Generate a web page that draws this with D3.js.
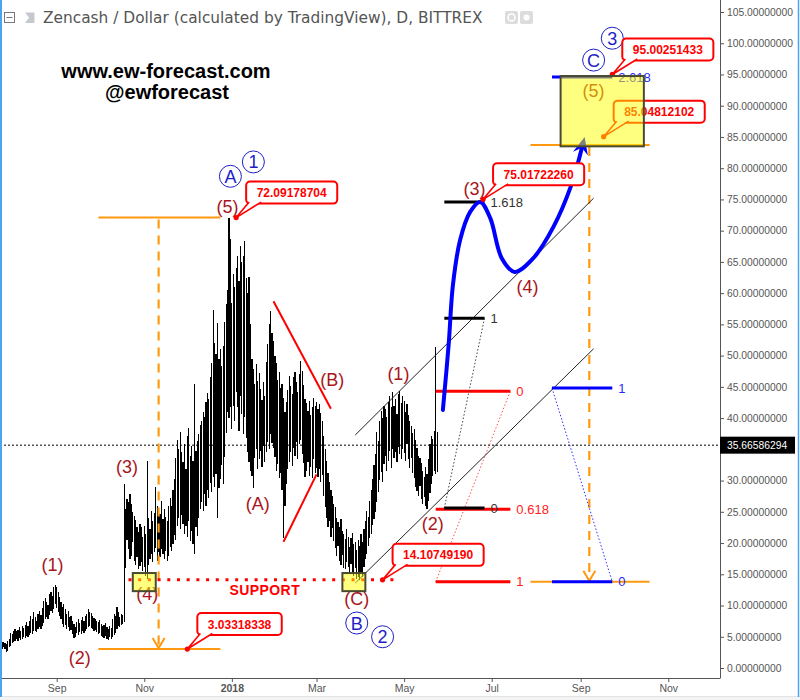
<!DOCTYPE html>
<html><head><meta charset="utf-8">
<script src="https://cdn.jsdelivr.net/npm/d3@7"></script>
<style>body{margin:0;background:#fff}svg{display:block}</style>
</head><body>
<svg id="c" width="800" height="700"></svg>
<script>
// ---------------- DATA ----------------
const barStart = "2017-07-24";
const lows = [
3.2,3.0,3.3,3.1,2.6,2.8,3.4,3.6,4.0,4.2,
4.4,4.6,4.3,4.8,4.5,4.7,5.0,4.8,5.2,5.0,
5.3,5.6,5.4,5.9,6.0,5.8,6.2,6.5,6.3,6.8,
7.2,7.8,8.2,7.9,8.5,9.1,8.8,9.5,10.2,9.6,
9.0,8.4,7.9,7.0,6.6,6.9,6.2,6.5,5.9,6.1,
5.5,4.8,5.0,5.6,5.3,5.8,5.4,5.9,5.6,6.0,
6.2,6.5,6.8,6.4,6.3,5.9,6.1,5.7,5.4,5.6,
5.2,5.0,4.8,5.1,4.7,4.5,4.9,4.6,5.0,5.3,
5.6,6.2,6.8,6.5,6.9,7.0,7.3,16.0,20.5,19.0,
17.5,18.0,20.1,17.2,16.5,17.8,15.9,16.3,17.0,15.5,
16.2,14.8,14.2,16.5,17.4,18.2,17.0,18.6,19.2,17.1,
18.5,17.8,19.0,18.2,17.5,18.8,17.2,18.0,19.4,18.7,
19.8,21.3,20.5,22.8,24.0,22.2,24.5,23.0,21.5,22.8,
21.0,23.6,20.4,22.0,19.8,18.3,22.5,21.2,24.0,25.5,
26.5,25.1,27.8,26.0,28.5,27.2,29.6,28.1,30.5,29.0,
31.0,24.0,28.8,30.2,32.5,29.4,33.8,37.6,41.0,40.0,
41.8,38.2,42.0,39.5,44.2,41.8,38.0,43.5,40.6,37.4,
40.2,36.8,34.5,33.0,31.5,30.8,28.8,33.6,35.1,31.8,
33.5,34.8,32.2,35.5,33.0,34.6,36.2,35.0,37.5,36.0,
35.2,33.8,31.5,32.6,30.4,31.2,28.5,20.8,26.0,29.5,
31.8,33.0,34.5,32.4,35.2,34.0,36.1,33.5,35.8,36.5,
34.2,32.8,30.5,31.6,33.0,30.8,32.1,30.4,33.5,31.2,
32.0,30.6,31.8,29.7,30.9,27.5,25.8,24.0,22.6,23.5,
21.0,22.4,20.3,19.2,18.0,19.5,17.2,16.5,18.1,16.0,
15.8,17.0,16.2,15.0,16.6,15.4,14.8,16.0,14.3,14.6,
14.1,15.2,14.5,16.1,17.5,18.2,19.6,20.8,21.5,22.9,
23.8,25.0,26.5,28.2,30.1,31.4,29.8,32.6,33.9,31.5,
33.2,34.8,32.0,35.1,33.6,34.5,33.0,35.4,34.2,33.5,
35.0,34.4,33.2,35.8,33.5,32.0,33.6,31.2,30.4,29.0,
28.4,27.5,29.1,27.0,26.2,27.4,26.0,25.5,26.8,28.0,
29.5,30.8,31.5,31.0,31.4];
const highs = [
4.0,4.1,4.2,4.0,3.8,4.3,4.6,5.6,5.5,6.0,
6.3,5.9,6.1,6.5,6.0,6.8,6.4,6.9,7.3,6.8,
7.5,8.4,7.8,8.9,8.2,7.6,8.7,9.2,8.5,9.6,
10.8,11.2,10.5,10.1,11.8,12.2,11.5,12.9,13.3,13.0,
12.1,11.4,10.6,9.8,10.2,9.4,8.6,9.1,8.2,8.4,
7.6,7.0,6.6,7.4,7.9,7.2,7.7,8.1,7.5,8.3,
8.6,9.4,9.0,8.8,8.3,8.0,7.8,7.6,7.3,7.7,
7.1,6.8,6.9,7.2,6.6,6.3,6.7,6.4,7.8,8.6,
8.4,9.8,8.9,8.2,8.7,8.5,29.5,25.5,27.0,26.5,
27.8,26.2,25.0,24.4,23.7,22.5,21.8,23.0,22.6,20.9,
22.8,21.5,33.2,24.0,22.3,25.1,23.5,24.8,28.9,26.0,
25.2,24.6,26.8,23.9,25.5,24.2,23.5,25.9,27.2,26.0,
28.5,30.2,33.6,36.5,35.1,37.8,34.6,33.0,35.8,31.9,
37.2,38.4,34.0,35.6,33.1,45.5,34.8,36.3,37.5,38.9,
39.5,41.0,40.2,42.5,44.0,43.1,46.5,48.8,57.3,52.0,
50.2,55.2,49.5,51.0,48.3,51.5,55.4,58.2,60.5,72.1,
68.6,58.5,63.0,61.0,64.0,66.0,62.0,67.5,65.0,66.0,
68.4,62.5,60.1,62.6,55.0,49.5,47.8,45.5,48.6,46.0,
47.2,44.6,42.9,45.8,43.5,48.9,51.8,55.1,57.2,53.6,
52.4,50.0,48.8,46.1,47.3,44.8,45.5,43.2,41.0,42.6,
44.5,46.8,45.2,43.9,46.5,47.4,45.8,44.1,47.0,49.2,
47.5,45.3,43.0,42.4,41.2,42.8,40.5,41.8,43.2,42.0,
42.6,41.4,42.2,40.8,39.6,37.2,35.0,33.1,31.2,29.8,
28.5,27.6,26.2,25.8,24.0,23.4,22.5,23.8,22.0,21.4,
20.6,22.2,21.0,19.4,20.8,21.6,19.8,20.2,18.9,20.5,
19.6,21.4,20.1,22.3,23.6,25.1,24.2,26.8,28.5,30.2,
32.5,34.2,37.8,36.4,39.5,41.2,40.0,42.0,41.5,40.2,
42.6,43.5,41.8,44.2,42.0,43.0,40.6,43.8,44.4,42.4,
43.6,42.8,41.0,42.2,40.5,39.6,38.8,37.6,38.2,36.5,
35.2,34.0,33.6,32.8,31.5,30.6,32.2,31.0,33.4,35.8,
37.2,36.6,38.0,51.3,37.8];
const lastPrice = 35.66586294;

const yTickValues = [0,5,10,15,20,25,30,40,45,50,55,60,65,70,75,80,85,90,95,100,105];
const xTickDates = ["2017-09-01","2017-11-01","2018-01-01","2018-03-01","2018-05-01","2018-07-01","2018-09-01","2018-11-01"];
const xTickLabels = ["Sep","Nov","2018","Mar","May","Jul","Sep","Nov"];

const waveText   = ["(1)","(2)","(3)","(4)","(5)","(A)","(B)","(C)","(1)","(2)","(3)","(4)","(5)"];
const waveDates  = ["2017-08-29","2017-09-17","2017-10-20","2017-11-03","2017-12-29","2018-01-19","2018-03-12","2018-03-29","2018-04-27","2018-05-21","2018-06-19","2018-07-26","2018-09-10"];
const wavePrices = [16.5,1.6,32.2,12.0,73.8,26.4,46.1,11.2,47.2,23.2,76.8,61.0,92.5];

const circText   = ["A","1","B","2","C","3"];
const circDates  = ["2017-12-31","2018-01-16","2018-03-29","2018-04-16","2018-09-10","2018-09-23"];
const circPrices = [78.7,81.0,7.2,5.0,97.3,100.8];

const calloutText   = ["72.09178704","14.10749190","3.03318338","75.01722260","95.00251433","85.04812102"];
const calloutDates  = ["2018-01-04","2018-04-16","2017-12-01","2018-06-25","2018-09-23","2018-09-17"];
const calloutPrices = [72.09178704,14.10749190,3.03318338,75.01722260,95.00251433,85.04812102];

const boxStart  = ["2017-10-24","2018-03-19","2018-08-18"];
const boxEnd    = ["2017-11-09","2018-04-04","2018-10-15"];
const boxTop    = [15.2,15.2,94.75];
const boxBottom = [12.3,12.3,83.5];

const targetHStart = ["2017-09-30","2018-07-28"];
const targetHEnd   = ["2017-12-24","2018-10-19"];
const targetVDate  = ["2017-11-11","2018-09-07"];
const targetTop    = [72.09178704, 83.7];
const targetBottom = [3.03318338, 13.8];

const supportStart = "2017-10-21", supportEnd = "2018-04-28", supportPrice = 14.10749190;

const redTrendDates  = [["2018-01-30","2018-03-11"],["2018-02-06","2018-03-01"]];
const redTrendPrices = [[58.7,41.5],[20.2,31.0]];
const channelDates  = [["2018-03-28","2018-09-10"],["2018-03-28","2018-09-10"]];
const channelPrices = [[37.3,75.2],[13.6,51.1]];

const fibRedRange = ["2018-05-23","2018-07-14"];
const fibRedLabels = ["0","0.618","1"];
const fibRedPrices = [44.3,25.4,13.8];
const fibBlackRange = ["2018-05-29","2018-06-26"];
const fibBlackLabels = ["1.618","1","0"];
const fibBlackPrices = [74.6,56.0,25.6];
const fibBlueRange = ["2018-08-12","2018-09-23"];
const fibBlueLabels = ["2.618","1","0"];
const fibBluePrices = [94.6,44.8,13.8];

const projDates  = ["2018-05-28","2018-06-01","2018-06-04","2018-06-09","2018-06-16","2018-06-23","2018-06-30","2018-07-08","2018-07-17","2018-07-30","2018-08-13","2018-08-25","2018-09-02"];
const projPrices = [41.3,51.7,61.3,68.5,73.0,74.6,72.0,65.6,63.4,65.6,70.6,77.0,83.4];

// ---------------- CHART ----------------
const W = 800, H = 700, PW = 720, PH = 678;
const parse = d3.utcParse("%Y-%m-%d");
const x = d3.scaleUtc().domain([parse("2017-09-01"), parse("2018-09-01")]).range([56.7, 580.7]);
const y = d3.scaleLinear().domain([0, 105]).range([668, 12]);
const X = s => x(parse(s));
const Y = v => y(v);
const FONT = "'Liberation Sans', Arial, sans-serif";
const WAVE = "#a8161b", BLUEL = "#1e1ec8", ORANGE = "#ff9a10", RED = "#ff0000";

const svg = d3.select("#c");
svg.append("rect").attr("width", W).attr("height", H).attr("fill", "#fff");
svg.append("defs").html(`
  <clipPath id="plot"><rect x="0" y="0" width="${PW}" height="${PH}"/></clipPath>
  <marker id="arr" viewBox="0 0 10 10" refX="4" refY="5" markerWidth="17" markerHeight="17" markerUnits="userSpaceOnUse" orient="auto">
    <path d="M0,0.5 L10,5 L0,9.5 L3.5,5 z" fill="#0000ff"/></marker>`);

const g = svg.append("g").attr("clip-path", "url(#plot)");

g.append("line").attr("x1", 0).attr("x2", PW).attr("y1", Y(lastPrice)).attr("y2", Y(lastPrice))
  .attr("stroke", "#000").attr("stroke-width", 1).attr("stroke-dasharray", "2,2");

// OHLC bars (high-low)
const barDates = highs.map((_, i) => d3.utcDay.offset(parse(barStart), i));
g.append("g").attr("shape-rendering", "crispEdges").selectAll("line").data(highs).join("line")
  .attr("x1", (d, i) => x(barDates[i])).attr("x2", (d, i) => x(barDates[i]))
  .attr("y1", (d, i) => Y(lows[i])).attr("y2", d => Y(d))
  .attr("stroke", "#000").attr("stroke-width", 1.2);

targetHStart.forEach((s, i) => {
  const x1 = X(s), x2 = X(targetHEnd[i]), xv = X(targetVDate[i]);
  const yt = Y(targetTop[i]), yb = Y(targetBottom[i]);
  g.append("line").attr("x1", x1).attr("x2", x2).attr("y1", yt).attr("y2", yt).attr("stroke", ORANGE).attr("stroke-width", 2);
  g.append("line").attr("x1", x1).attr("x2", x2).attr("y1", yb).attr("y2", yb).attr("stroke", ORANGE).attr("stroke-width", 2);
  g.append("line").attr("x1", xv).attr("x2", xv).attr("y1", yt + 2).attr("y2", yb - 1).attr("stroke", ORANGE)
    .attr("stroke-width", 2.2).attr("stroke-dasharray", "9,7");
  g.append("path").attr("d", `M${xv - 6},${yb - 11}L${xv},${yb - 1}L${xv + 6},${yb - 11}`)
    .attr("fill", "none").attr("stroke", ORANGE).attr("stroke-width", 2);
});

g.append("line").attr("x1", X(supportStart)).attr("x2", X(supportEnd))
  .attr("y1", Y(supportPrice)).attr("y2", Y(supportPrice))
  .attr("stroke", RED).attr("stroke-width", 3).attr("stroke-dasharray", "3,6.7");

redTrendDates.forEach((d, i) => {
  g.append("line").attr("x1", X(d[0])).attr("x2", X(d[1]))
    .attr("y1", Y(redTrendPrices[i][0])).attr("y2", Y(redTrendPrices[i][1]))
    .attr("stroke", RED).attr("stroke-width", 2);
});
channelDates.forEach((d, i) => {
  g.append("line").attr("x1", X(d[0])).attr("x2", X(d[1]))
    .attr("y1", Y(channelPrices[i][0])).attr("y2", Y(channelPrices[i][1]))
    .attr("stroke", "#222").attr("stroke-width", 1);
});

function fib(range, labels, prices, color, labelColor, pFrom, pTo, dotColor) {
  const x1 = X(range[0]), x2 = X(range[1]);
  g.append("line").attr("x1", x1).attr("x2", x2).attr("y1", Y(pFrom)).attr("y2", Y(pTo))
    .attr("stroke", dotColor).attr("stroke-width", 1).attr("stroke-dasharray", "1.5,2");
  prices.forEach((p, i) => {
    g.append("line").attr("x1", x1).attr("x2", x2).attr("y1", Y(p)).attr("y2", Y(p))
      .attr("stroke", color).attr("stroke-width", 3);
    g.append("text").attr("x", x2 + 6).attr("y", Y(p)).attr("dy", "0.36em")
      .attr("font-family", FONT).attr("font-size", 13).attr("fill", labelColor).text(labels[i]);
  });
}
fib(fibRedRange, fibRedLabels, fibRedPrices, RED, "#ff2020", fibRedPrices[2], fibRedPrices[0], "#ff5050");
fib(fibBlackRange, fibBlackLabels, fibBlackPrices, "#000", "#333", fibBlackPrices[2], fibBlackPrices[1], "#444");
fib(fibBlueRange, fibBlueLabels, fibBluePrices, "#0000ff", "#2a2aff", fibBluePrices[1], fibBluePrices[2], "#3030ff");

const line = d3.line().x((d, i) => X(projDates[i])).y(d => Y(d)).curve(d3.curveCatmullRom.alpha(0.5));
g.append("path").attr("d", line(projPrices)).attr("fill", "none").attr("stroke", "#0000ff")
  .attr("stroke-width", 4).attr("stroke-linecap", "round").attr("marker-end", "url(#arr)");

g.append("g").selectAll("text").data(waveText).join("text")
  .attr("x", (d, i) => X(waveDates[i])).attr("y", (d, i) => Y(wavePrices[i])).attr("dy", "0.36em")
  .attr("text-anchor", "middle").attr("font-family", FONT).attr("font-size", 18)
  .attr("fill", WAVE).text(d => d);

const cg = g.append("g").selectAll("g").data(circText).join("g")
  .attr("transform", (d, i) => `translate(${X(circDates[i])},${Y(circPrices[i])})`);
cg.append("circle").attr("r", 11).attr("fill", "none").attr("stroke", BLUEL).attr("stroke-width", 1);
cg.append("text").attr("text-anchor", "middle").attr("dy", "0.36em").attr("font-family", FONT)
  .attr("font-size", 18).attr("fill", BLUEL).text(d => d);

g.append("text").attr("x", X("2018-01-24")).attr("y", Y(12.5)).attr("dy", "0.36em").attr("text-anchor", "middle")
  .attr("font-family", FONT).attr("font-weight", "bold").attr("font-size", 14).attr("fill", RED)
  .attr("letter-spacing", 0.4).text("SUPPORT");

calloutText.forEach((t, i) => {
  const cx = X(calloutDates[i]), cy = Y(calloutPrices[i]);
  const cgp = g.append("g");
  const txt = cgp.append("text").attr("font-family", FONT).attr("font-weight", "bold").attr("font-size", 12)
    .attr("fill", RED).attr("text-anchor", "middle").text(t);
  const tw = txt.node().getComputedTextLength();
  const bw = tw + 21, left = cx + 10, top = cy - 36;
  cgp.insert("rect", "text").attr("x", left).attr("y", top).attr("width", bw).attr("height", 22).attr("rx", 4)
    .attr("fill", "#fff").attr("stroke", RED).attr("stroke-width", 2);
  cgp.insert("path", "text").attr("d", `M${left + 3},${top + 20.5}L${cx},${cy}L${left + 15},${top + 20.5}`)
    .attr("fill", "#fff").attr("stroke", RED).attr("stroke-width", 1.6);
  txt.attr("x", left + bw / 2).attr("y", top + 15.5);
  cgp.append("circle").attr("cx", cx).attr("cy", cy).attr("r", 2.6).attr("fill", RED);
});

boxStart.forEach((s, i) => {
  g.append("rect").attr("x", X(s)).attr("y", Y(boxTop[i]))
    .attr("width", X(boxEnd[i]) - X(s)).attr("height", Y(boxBottom[i]) - Y(boxTop[i]))
    .attr("fill", "rgba(255,255,0,0.5)").attr("stroke", "#4a4a30").attr("stroke-width", 2);
});

// ---------------- AXES / FRAME ----------------
const yAxis = svg.append("g").attr("transform", `translate(${PW},0)`)
  .call(d3.axisRight(y).tickValues(yTickValues).tickFormat(d3.format(".8f")).tickSize(4).tickPadding(3));
yAxis.select(".domain").remove();
yAxis.selectAll("line").attr("stroke", "#555");
yAxis.selectAll("text").attr("font-family", FONT).attr("font-size", 10.3).attr("fill", "#555");

const xAxis = svg.append("g").attr("transform", `translate(0,${PH})`)
  .call(d3.axisBottom(x).tickValues(xTickDates.map(parse)).tickFormat((d, i) => xTickLabels[i]).tickSize(4).tickPadding(3));
xAxis.select(".domain").remove();
xAxis.selectAll("line").attr("stroke", "#555");
xAxis.selectAll("text").attr("font-family", FONT).attr("font-size", 10.5).attr("fill", "#555")
  .attr("font-weight", (d, i) => xTickLabels[i] === "2018" ? "bold" : "normal");

svg.append("line").attr("x1", PW + 0.5).attr("x2", PW + 0.5).attr("y1", 0).attr("y2", PH).attr("stroke", "#555");
svg.append("line").attr("x1", 0).attr("x2", PW + 0.5).attr("y1", PH + 0.5).attr("y2", PH + 0.5).attr("stroke", "#555");

svg.append("rect").attr("x", PW).attr("y", Y(lastPrice) - 8.5).attr("width", 75).attr("height", 17).attr("fill", "#000");
svg.append("text").attr("x", PW + 7).attr("y", Y(lastPrice)).attr("dy", "0.36em").attr("font-family", FONT)
  .attr("font-size", 10.3).attr("fill", "#fff").text(d3.format(".8f")(lastPrice));

svg.append("line").attr("x1", 0).attr("x2", W).attr("y1", 696.5).attr("y2", 696.5).attr("stroke", "#e3e3e3");
svg.append("rect").attr("x", 0).attr("y", 697).attr("width", W).attr("height", 3).attr("fill", "#f4f4f4");
svg.append("line").attr("x1", 1).attr("x2", 1).attr("y1", 0).attr("y2", 697).attr("stroke", "#4da3f0").attr("stroke-width", 2);
svg.append("line").attr("x1", 798.5).attr("x2", 798.5).attr("y1", 0).attr("y2", 697).attr("stroke", "#4da3f0").attr("stroke-width", 1.5);

svg.append("rect").attr("x", 4.5).attr("y", 12.5).attr("width", 10).attr("height", 10).attr("fill", "#fff").attr("stroke", "#777");
svg.append("line").attr("x1", 6.5).attr("x2", 12.5).attr("y1", 17.5).attr("y2", 17.5).attr("stroke", "#777");
svg.append("path").attr("d", "M25,12.5H34.5V23H25L29,17.75Z").attr("fill", "#c5c9cf");
const title = svg.append("text").attr("x", 43).attr("y", 23).attr("font-family", "'DejaVu Sans', Verdana, sans-serif")
  .attr("font-size", 14).attr("fill", "#555").text("Zencash / Dollar (calculated by TradingView), D, BITTREX");
const tl = title.node().getComputedTextLength();
title.attr("font-size", 14 * 440 / tl);
svg.append("rect").attr("x", 505).attr("y", 11).attr("width", 13).attr("height", 13).attr("rx", 2).attr("fill", "#dcdcdc");
svg.append("rect").attr("x", 520).attr("y", 11).attr("width", 13).attr("height", 13).attr("rx", 2).attr("fill", "#dcdcdc");
svg.append("circle").attr("cx", 511.5).attr("cy", 17.5).attr("r", 3.5).attr("fill", "none").attr("stroke", "#fff").attr("stroke-width", 1.5);
svg.append("circle").attr("cx", 526.5).attr("cy", 17.5).attr("r", 3).attr("fill", "#fff");

svg.append("text").attr("x", 166).attr("y", 78).attr("text-anchor", "middle").attr("font-family", FONT)
  .attr("font-weight", "bold").attr("font-size", 20).attr("fill", "#000").text("www.ew-forecast.com");
svg.append("text").attr("x", 167).attr("y", 99).attr("text-anchor", "middle").attr("font-family", FONT)
  .attr("font-weight", "bold").attr("font-size", 20).attr("fill", "#000").text("@ewforecast");
</script>
</body></html>
